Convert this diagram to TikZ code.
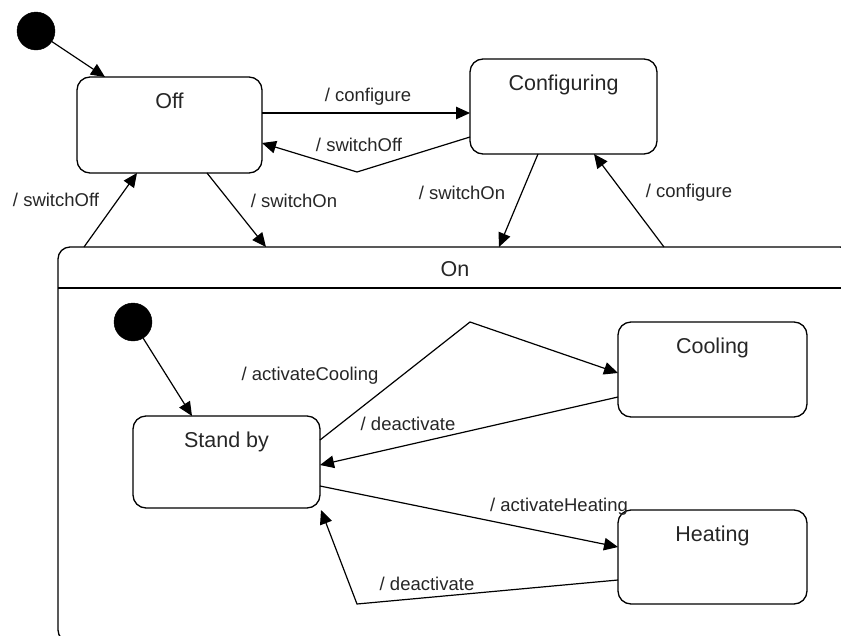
\documentclass[tikz,border=0pt]{standalone}
\usepackage{fontspec}
\setmainfont{Liberation Sans}
\usetikzlibrary{arrows.meta}

\tikzset{
  statebox/.style={draw, line width=1.3pt, rounded corners=13pt, inner sep=0pt, outer sep=0pt,
    minimum width=#1},
  statename/.style={font=\fontsize{21.5}{24}\selectfont, text=black!85, anchor=base, inner sep=0pt},
  initdot/.style={circle, fill=black, draw=black, minimum size=38pt, inner sep=0pt},
  tr/.style={draw, line width=1.2pt, -{Triangle[length=14pt,width=12.5pt]}},
  trlabel/.style={font=\fontsize{18.5}{21}\selectfont, text=black!85, inner sep=0pt},
}

\begin{document}
\begin{tikzpicture}[x=1pt, y=-1pt]
  \useasboundingbox (0,0) rectangle (841,635);

  % top-level states
  \node[initdot] (init1) at (36,31) {};
  \node[statebox=185pt, minimum height=96pt] (off) at (169.5,125) {};
  \node[statebox=187pt, minimum height=95pt] (conf) at (563.5,106.5) {};
  \node[statename] (offname) at (169.5,108) {Off};
  \node[statename] (confname) at (563.5,90.5) {Configuring};

  % composite state On with its header compartment
  \node[statebox=794pt, minimum height=395pt, rounded corners=12pt] (on) at (455,444.5) {};
  \draw[line width=1.3pt] ([yshift=-41pt]on.north west) -- ([yshift=-41pt]on.north east);
  \node[statename] (onname) at (455,276) {On};

  % substates of On
  \node[initdot] (init2) at (133,322) {};
  \node[statebox=187pt, minimum height=92pt] (standby) at (226.5,462) {};
  \node[statebox=189pt, minimum height=95pt] (cooling) at (712.5,369.5) {};
  \node[statebox=189pt, minimum height=94pt] (heating) at (712.5,557) {};
  \node[statename] (standbyname) at (226.5,447) {Stand by};
  \node[statename] (coolingname) at (712.5,353.5) {Cooling};
  \node[statename] (heatingname) at (712.5,541) {Heating};

  % bend points
  \coordinate (bendOff) at (357,172);
  \coordinate (bendCool) at (470,322);
  \coordinate (bendHeat) at (357,604);

  % transitions between top-level states
  \draw[tr] (init1) -- ([xshift=28pt]off.north west);
  \draw[tr] ([yshift=12pt]off.east) -- ([yshift=-6.5pt]conf.west);
  \draw[tr] ([yshift=-30.5pt]conf.west) -- (bendOff) -- ([yshift=-18pt]off.east);
  \draw[tr] ([xshift=130pt]off.south west) -- ([xshift=208pt]on.north west);
  \draw[tr] ([xshift=26pt]on.north west) -- ([xshift=60pt]off.south west);
  \draw[tr] ([xshift=68pt]conf.south west) -- ([xshift=441pt]on.north west);
  \draw[tr] ([xshift=606pt]on.north west) -- ([xshift=124pt]conf.south west);

  % transitions inside On
  \draw[tr] (init2) -- ([xshift=59pt]standby.north west);
  \draw[tr] ([yshift=22pt]standby.east) -- (bendCool) -- ([yshift=-3.5pt]cooling.west);
  \draw[tr] ([yshift=-27.5pt]cooling.west) -- ([yshift=-3pt]standby.east);
  \draw[tr] ([yshift=-24pt]standby.east) -- ([yshift=10pt]heating.west);
  \draw[tr] ([yshift=-23pt]heating.west) -- (bendHeat) -- ([shift={(1pt,-2pt)}]standby.south east);

  % transition labels
  \node[trlabel] (l1) at (368,97) {/ configure};
  \node[trlabel] (l2) at (359,145) {/ switchOff};
  \node[trlabel] (l3) at (294,201) {/ switchOn};
  \node[trlabel] (l4) at (56,200) {/ switchOff};
  \node[trlabel] (l5) at (462,193) {/ switchOn};
  \node[trlabel] (l6) at (689,193) {/ configure};
  \node[trlabel] (l7) at (310,376) {/ activateCooling};
  \node[trlabel] (l8) at (408,424) {/ deactivate};
  \node[trlabel] (l9) at (559,507) {/ activateHeating};
  \node[trlabel] (l10) at (427,584) {/ deactivate};
\end{tikzpicture}
\end{document}
